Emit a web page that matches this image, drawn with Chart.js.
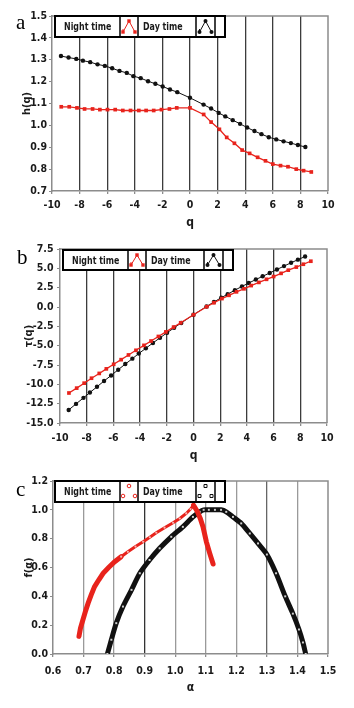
<!DOCTYPE html>
<html>
<head>
<title>h(q), tau(q), f(alpha)</title>
<script src="https://cdn.jsdelivr.net/npm/chart.js"></script>
<style>
  body { margin: 0; background: #fff; }
  .panel { position: absolute; left: 0; width: 354px; }
</style>
</head>
<body>
<div class="panel" style="top:0px;height:230px"><canvas id="chartA" width="354" height="230"></canvas></div>
<div class="panel" style="top:230px;height:240px"><canvas id="chartB" width="354" height="240"></canvas></div>
<div class="panel" style="top:470px;height:238px"><canvas id="chartC" width="354" height="238"></canvas></div>
<script>
// values
const qNight = [-9.33, -8.75, -8.19, -7.64, -7.06, -6.53, -5.98, -5.42, -4.87, -4.31, -3.71, -3.18, -2.63, -2.07, -1.49, -0.96, 0,
                0.99, 1.53, 2.13, 2.66, 3.22, 3.78, 4.32, 4.90, 5.47, 6.00, 6.56, 7.10, 7.70, 8.23, 8.79];
const hNight = [1.085, 1.085, 1.080, 1.075, 1.075, 1.072, 1.072, 1.072, 1.068, 1.068, 1.068, 1.068, 1.068, 1.072, 1.075, 1.080, 1.080,
                1.050, 1.015, 0.982, 0.945, 0.918, 0.887, 0.872, 0.854, 0.838, 0.823, 0.816, 0.811, 0.800, 0.793, 0.787];
const qDay = [-9.35, -8.80, -8.24, -7.76, -7.23, -6.70, -6.17, -5.64, -5.11, -4.58, -4.10, -3.57, -3.04, -2.51, -1.98, -1.45, -0.92, 0,
              0.98, 1.53, 2.08, 2.56, 3.10, 3.63, 4.14, 4.67, 5.18, 5.71, 6.25, 6.78, 7.31, 7.82, 8.36];
const hDay = [1.317, 1.310, 1.304, 1.296, 1.289, 1.279, 1.272, 1.261, 1.249, 1.240, 1.225, 1.216, 1.202, 1.190, 1.178, 1.164, 1.152, 1.126,
              1.095, 1.077, 1.057, 1.041, 1.024, 1.007, 0.990, 0.974, 0.960, 0.946, 0.936, 0.927, 0.919, 0.910, 0.901];

const tauNight = [-11.12, -10.49, -9.85, -9.21, -8.59, -8.00, -7.41, -6.81, -6.20, -5.60, -4.96, -4.40, -3.81, -3.22, -2.60, -2.04, -1.00,
                  0.04, 0.55, 1.09, 1.51, 1.96, 2.35, 2.77, 3.18, 3.58, 3.94, 4.35, 4.76, 5.16, 5.53, 5.92];
const tauDay = [-13.31, -12.53, -11.75, -11.06, -10.32, -9.57, -8.85, -8.11, -7.38, -6.68, -6.02, -5.34, -4.65, -3.99, -3.33, -2.69, -2.06, -1.00,
                0.07, 0.65, 1.20, 1.66, 2.17, 2.66, 3.10, 3.55, 3.97, 4.40, 4.85, 5.29, 5.72, 6.12, 6.53];

const alphaNight = [0.685, 0.690, 0.698, 0.706, 0.715, 0.725, 0.736, 0.750, 0.764, 0.782, 0.802, 0.823, 0.845, 0.870, 0.895, 0.917,
                    0.938, 0.965, 0.993, 1.015, 1.036, 1.050, 1.060, 1.072, 1.082, 1.091, 1.102, 1.113, 1.124];
const fNight = [0.122, 0.180, 0.237, 0.295, 0.353, 0.410, 0.467, 0.515, 0.560, 0.600, 0.640, 0.675, 0.709, 0.745, 0.778, 0.810,
                0.841, 0.876, 0.910, 0.940, 0.975, 1.005, 1.032, 0.990, 0.940, 0.882, 0.778, 0.698, 0.624];
const alphaDay = [0.778, 0.791, 0.807, 0.829, 0.857, 0.884, 0.916, 0.949, 0.987, 1.025, 1.058, 1.080, 1.093, 1.110, 1.130, 1.150,
                  1.167, 1.189, 1.216, 1.244, 1.271, 1.300, 1.330, 1.360, 1.385, 1.405, 1.418, 1.427];
const fDay = [0.000, 0.099, 0.214, 0.329, 0.445, 0.560, 0.652, 0.733, 0.813, 0.882, 0.951, 0.986, 1.000, 1.000, 1.000, 1.000,
              0.986, 0.951, 0.906, 0.836, 0.767, 0.690, 0.560, 0.400, 0.280, 0.170, 0.080, 0.000];

const seriesNames = ['Night time', 'Day time'];
const RED = '#e8231c';
const BLACK = '#111111';
const FONT = '"Liberation Sans Narrow", "DejaVu Sans Condensed", "Roboto", sans-serif';

function pts(xs, ys) {
    return xs.map((x, i) => ({ x: x, y: ys[i] }));
}

// frame, legend box and panel letter
const panelDecor = {
    id: 'panelDecor',
    afterDraw(chart, args, o) {
        const ctx = chart.ctx, a = chart.chartArea;
        ctx.save();
        ctx.strokeStyle = '#8c8c8c';
        ctx.lineWidth = 1.5;
        ctx.beginPath();
        ctx.moveTo(a.left, a.top);
        ctx.lineTo(a.right, a.top);
        ctx.lineTo(a.right, a.bottom);
        ctx.stroke();

        // legend
        const x0 = a.left + o.dx, y0 = a.top + o.dy, w = 170, h = o.h;
        ctx.fillStyle = '#fff';
        ctx.fillRect(x0, y0, w, h);
        ctx.strokeStyle = '#000';
        ctx.lineWidth = 1.5;
        [65, 83, 141, 160].forEach(c => {
            ctx.beginPath();
            ctx.moveTo(x0 + c, y0);
            ctx.lineTo(x0 + c, y0 + h);
            ctx.stroke();
        });
        ctx.lineWidth = 2;
        ctx.strokeRect(x0, y0, w, h);

        ctx.fillStyle = '#1a1a1a';
        ctx.font = 'bold 11px ' + FONT;
        ctx.textBaseline = 'middle';
        ctx.textAlign = 'left';
        [[seriesNames[0], 9], [seriesNames[1], 88]].forEach(([t, off]) => {
            ctx.save();
            ctx.translate(x0 + off, y0 + h / 2 + 1);
            ctx.scale(0.8, 1);
            ctx.fillText(t, 0, 0);
            ctx.restore();
        });

        if (o.icon === 'line') {
            const icon = (cx, col, square) => {
                const p = [[cx - 6, y0 + h - 5], [cx, y0 + 5], [cx + 6, y0 + h - 5]];
                ctx.strokeStyle = col;
                ctx.lineWidth = 1;
                ctx.beginPath();
                ctx.moveTo(p[0][0], p[0][1] - 3);
                p.forEach(q => ctx.lineTo(q[0], q[1]));
                ctx.stroke();
                ctx.fillStyle = col;
                p.forEach(q => {
                    if (square) ctx.fillRect(q[0] - 1.7, q[1] - 1.7, 3.4, 3.4);
                    else { ctx.beginPath(); ctx.arc(q[0], q[1], 2, 0, Math.PI * 2); ctx.fill(); }
                });
            };
            icon(x0 + 74, RED, true);
            icon(x0 + 150.5, BLACK, false);
        } else {
            const icon = (cx, col, square) => {
                const p = [[cx, y0 + 5], [cx - 6, y0 + h - 6], [cx + 6, y0 + h - 6]];
                ctx.strokeStyle = col;
                ctx.lineWidth = 1;
                p.forEach(q => {
                    ctx.beginPath();
                    if (square) ctx.rect(q[0] - 1.5, q[1] - 1.5, 3, 3);
                    else ctx.arc(q[0], q[1], 1.8, 0, Math.PI * 2);
                    ctx.stroke();
                });
            };
            icon(x0 + 74, RED, false);
            icon(x0 + 150.5, BLACK, true);
        }

        // panel letter
        ctx.fillStyle = '#000';
        ctx.font = '21px "Liberation Serif", "DejaVu Serif", serif';
        ctx.textBaseline = 'alphabetic';
        ctx.fillText(o.letter, o.lx, o.ly);
        ctx.restore();
    }
};

function makeScales(cfg) {
    return {
        x: {
            type: 'linear',
            min: cfg.xMin, max: cfg.xMax,
            afterFit: s => { s.height = cfg.xH; },
            border: { color: '#8c8c8c', width: 1.5 },
            grid: {
                color: c => (c.tick && (Math.abs(c.tick.value - cfg.xMin) < 1e-6 || Math.abs(c.tick.value - cfg.xMax) < 1e-6)) ? 'rgba(0,0,0,0)' : cfg.gridColor(c.tick ? c.tick.value : 0),
                lineWidth: 1.3,
                tickColor: '#8c8c8c',
                tickLength: 3
            },
            ticks: {
                stepSize: cfg.xStep, autoSkip: false, maxRotation: 0,
                padding: cfg.xPad, color: '#1a1a1a',
                font: { family: FONT, size: 10.5, weight: 'bold' },
                callback: v => cfg.xFmt(v)
            },
            title: {
                display: true, text: cfg.xTitle, color: '#1a1a1a',
                font: { family: FONT, size: 12, weight: 'bold' },
                padding: { top: 0, bottom: cfg.xTitlePad }
            }
        },
        y: {
            type: 'linear',
            min: cfg.yMin, max: cfg.yMax,
            afterFit: s => { s.width = cfg.yW; },
            border: { color: '#8c8c8c', width: 1.5 },
            grid: { drawOnChartArea: false, tickColor: '#8c8c8c', tickLength: 3 },
            ticks: {
                stepSize: cfg.yStep, autoSkip: false,
                padding: cfg.yPad, color: '#1a1a1a',
                font: { family: FONT, size: 10.5, weight: 'bold' },
                callback: v => v.toFixed(1)
            },
            title: {
                display: true, text: cfg.yTitle, color: '#1a1a1a',
                font: { family: FONT, size: 11, weight: 'bold' },
                padding: { top: cfg.yTitlePad, bottom: 0 }
            }
        }
    };
}

const darkGrid = () => '#3c3c3c';

// a: h(q)
new Chart(document.getElementById('chartA'), {
    type: 'line',
    data: {
        datasets: [{
            label: seriesNames[0], data: pts(qNight, hNight),
            borderColor: RED, backgroundColor: RED, borderWidth: 1.3,
            pointStyle: 'rect', pointRadius: 2.6, pointBorderWidth: 0
        }, {
            label: seriesNames[1], data: pts(qDay, hDay),
            borderColor: BLACK, backgroundColor: BLACK, borderWidth: 1,
            pointStyle: 'circle', pointRadius: 2.2, pointBorderWidth: 0
        }]
    },
    options: {
        responsive: false, animation: false,
        layout: { padding: { left: 0, top: 16, right: 26, bottom: 0 } },
        plugins: {
            legend: { display: false }, tooltip: { enabled: false },
            panelDecor: { dx: 3, dy: 0, h: 21, icon: 'line', letter: 'a', lx: 16, ly: 29 }
        },
        scales: makeScales({
            xMin: -10, xMax: 10, xStep: 2, xH: 39, xPad: 4.5, xFmt: v => String(v), xTitle: 'q', xTitlePad: 0,
            yMin: 0.7, yMax: 1.5, yStep: 0.1, yW: 52, yPad: 2, yTitle: 'h(q)', yTitlePad: 21,
            gridColor: darkGrid
        })
    },
    plugins: [panelDecor]
});

// b: tau(q)
new Chart(document.getElementById('chartB'), {
    type: 'line',
    data: {
        datasets: [{
            label: seriesNames[0], data: pts(qNight, tauNight),
            borderColor: RED, backgroundColor: RED, borderWidth: 1.3,
            pointStyle: 'rect', pointRadius: 2.6, pointBorderWidth: 0
        }, {
            label: seriesNames[1], data: pts(qDay, tauDay),
            borderColor: BLACK, backgroundColor: BLACK, borderWidth: 1,
            pointStyle: 'circle', pointRadius: 2.2, pointBorderWidth: 0
        }]
    },
    options: {
        responsive: false, animation: false,
        layout: { padding: { left: 0, top: 19, right: 27, bottom: 0 } },
        plugins: {
            legend: { display: false }, tooltip: { enabled: false },
            panelDecor: { dx: 3, dy: 1, h: 20, icon: 'line', letter: 'b', lx: 17, ly: 34 }
        },
        scales: makeScales({
            xMin: -10, xMax: 10, xStep: 2, xH: 47, xPad: 5.5, xFmt: v => String(v), xTitle: 'q', xTitlePad: 6.5,
            yMin: -15, yMax: 7.5, yStep: 2.5, yW: 60, yPad: 3.5, yTitle: 'τ(q)', yTitlePad: 23,
            gridColor: darkGrid
        })
    },
    plugins: [panelDecor]
});

// c: f(alpha) - thick band of dense hollow markers
new Chart(document.getElementById('chartC'), {
    type: 'line',
    data: {
        datasets: [{
            label: seriesNames[0], data: pts(alphaNight, fNight),
            borderColor: RED, borderWidth: 4.5, borderCapStyle: 'round', borderJoinStyle: 'miter',
            segment: { borderWidth: c => (c.p0.parsed.y > 0.66 && c.p0.parsed.x < 1.055) ? 3 : 5 },
            pointStyle: 'circle', pointBorderWidth: 0, pointBackgroundColor: '#f6b3ae',
            pointRadius: c => (c.parsed && c.parsed.y > 0.66 && c.parsed.x < 1.055) ? 1.1 : 0
        }, {
            label: seriesNames[1], data: pts(alphaDay, fDay),
            borderColor: BLACK, borderWidth: 5, borderCapStyle: 'butt', tension: 0.25,
            pointStyle: 'rect', pointRadius: 1.4, pointBorderWidth: 0, pointBackgroundColor: '#cfcfcf'
        }]
    },
    options: {
        responsive: false, animation: false,
        layout: { padding: { left: 0, top: 11, right: 26, bottom: 0 } },
        plugins: {
            legend: { display: false }, tooltip: { enabled: false },
            panelDecor: { dx: 2, dy: 0, h: 21, icon: 'marker', letter: 'c', lx: 16, ly: 26 }
        },
        scales: makeScales({
            xMin: 0.6, xMax: 1.5, xStep: 0.1, xH: 54, xPad: 8, xFmt: v => v.toFixed(1), xTitle: 'α', xTitlePad: 13,
            yMin: 0, yMax: 1.2, yStep: 0.2, yW: 53, yPad: 2, yTitle: 'f(α)', yTitlePad: 22.7,
            gridColor: v => (Math.abs(v - 0.9) < 1e-6 ? '#333' : (Math.abs(v - 1.3) < 1e-6 ? '#666' : '#9a9a9a'))
        })
    },
    plugins: [panelDecor]
});
</script>
</body>
</html>
